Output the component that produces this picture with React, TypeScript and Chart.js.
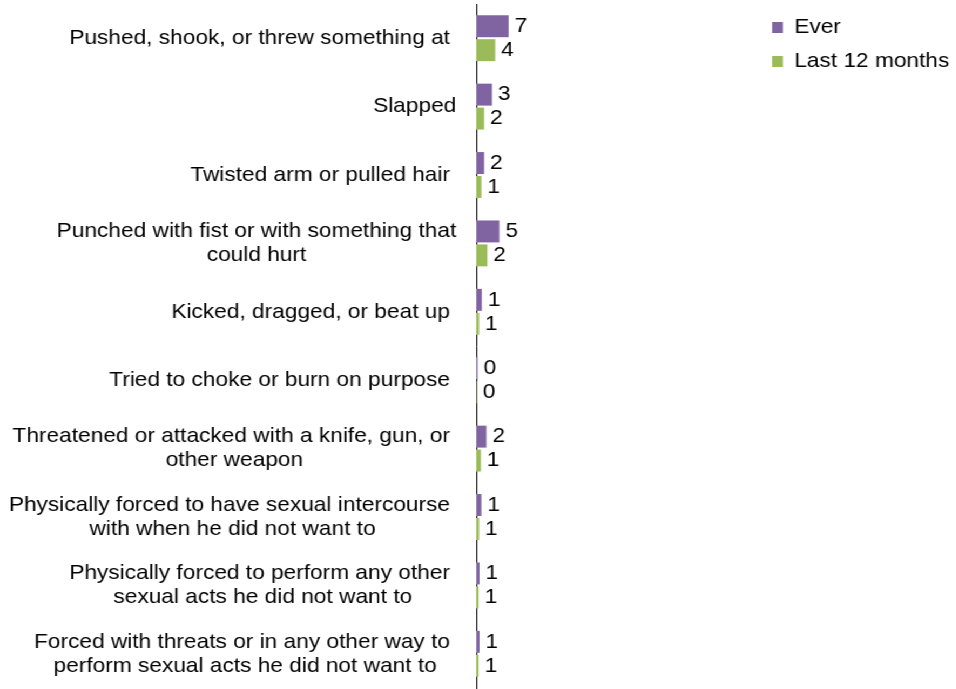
import React, { useEffect, useRef } from "react";
import { Chart, registerables } from "chart.js";

Chart.register(...registerables);

// ---------- data ----------
const categories: string[][] = [
  ["Pushed, shook, or threw something at "],
  ["Slapped"],
  ["Twisted arm or pulled hair "],
  ["Punched with fist or with something that", "could hurt"],
  ["Kicked, dragged, or beat up "],
  ["Tried to choke or burn on purpose "],
  ["Threatened or attacked with a knife, gun, or ", "other weapon"],
  ["Physically forced to have sexual intercourse ", "with when he did not want to"],
  ["Physically forced to perform any other ", "sexual acts he did not want to"],
  ["Forced with threats or in any other way to ", "perform sexual acts he did not want to"],
];
const seriesNames = ["Ever", "Last 12 months"];
const everValues = [7.0, 3.4, 1.7, 5.0, 1.2, 0.3, 2.2, 1.1, 0.7, 0.7];
const last12Values = [4.1, 1.7, 1.1, 2.4, 0.6, 0.1, 1.0, 0.6, 0.5, 0.5];
const xMax = 61;

// ---------- style ----------
const FONT = '"Liberation Sans", Arial, Helvetica, sans-serif';
const FONT_SIZE = 21;
const VALUE_FONT_SIZE = 21;
const STRETCH = 1.08;
const CANVAS_W = 885;
const CANVAS_H = 689;
const AXIS_LEFT = 441;
const COLORS = ["#8064A2", "#9BBB59"];
const LABEL_GAP = 18.5;
const LINE_H = 24;

const categoryLabelPlugin = {
  id: "categoryLabels",
  afterDraw(chart: any) {
    const ctx = chart.ctx;
    const yScale = chart.scales.y;
    const area = chart.chartArea;
    ctx.save();
    ctx.font = `${FONT_SIZE}px ${FONT}`;
    ctx.fillStyle = "#000";
    ctx.textBaseline = "middle";
    ctx.textAlign = "center";
    categories.forEach((lines, i) => {
      const yc = yScale.getPixelForValue(i);
      const bw = Math.max(...lines.map((l) => ctx.measureText(l).width));
      const cx = area.left - LABEL_GAP - bw / 2;
      const y0 = yc - ((lines.length - 1) * LINE_H) / 2;
      lines.forEach((l, j) => ctx.fillText(l, cx, y0 + j * LINE_H));
    });
    ctx.restore();
  },
};

const valueLabelPlugin = {
  id: "valueLabels",
  afterDatasetsDraw(chart: any) {
    const ctx = chart.ctx;
    ctx.save();
    ctx.font = `${VALUE_FONT_SIZE}px ${FONT}`;
    ctx.fillStyle = "#000";
    ctx.textBaseline = "middle";
    ctx.textAlign = "left";
    chart.data.datasets.forEach((ds: any, di: number) => {
      const meta = chart.getDatasetMeta(di);
      meta.data.forEach((bar: any, i: number) => {
        ctx.fillText(String(Math.round(ds.data[i])), bar.x + 5.5, bar.y);
      });
    });
    ctx.restore();
  },
};

export default function App() {
  const ref = useRef<HTMLCanvasElement>(null);
  useEffect(() => {
    if (!ref.current) return;
    const chart = new Chart(ref.current, {
      type: "bar",
      data: {
        labels: categories.map((c) => c.join(" ").trim()),
        datasets: [
          {
            label: seriesNames[0],
            data: everValues,
            backgroundColor: COLORS[0],
            borderWidth: 0,
            categoryPercentage: 0.7,
            barPercentage: 0.917,
          },
          {
            label: seriesNames[1],
            data: last12Values,
            backgroundColor: COLORS[1],
            borderWidth: 0,
            categoryPercentage: 0.7,
            barPercentage: 0.917,
          },
        ],
      },
      options: {
        indexAxis: "y",
        responsive: false,
        animation: false,
        layout: { padding: { left: 0, top: 4, bottom: 1, right: -4 } },
        scales: {
          x: { display: false, min: 0, max: xMax },
          y: {
            ticks: { display: false },
            grid: { display: true, drawOnChartArea: false, drawTicks: false },
            border: { display: true, color: "#000", width: 1 },
            afterFit: (scale: any) => {
              scale.width = AXIS_LEFT;
            },
          },
        },
        plugins: {
          tooltip: { enabled: false },
          legend: {
            position: "right",
            align: "start",
            labels: {
              boxWidth: 10,
              boxHeight: 11,
              padding: 13,
              color: "#000",
              font: { size: FONT_SIZE, family: FONT },
            },
          },
        },
      },
      plugins: [categoryLabelPlugin, valueLabelPlugin],
    });
    return () => chart.destroy();
  }, []);
  return (
    <div
      style={{
        position: "absolute",
        left: 0,
        top: 0,
        width: CANVAS_W,
        height: CANVAS_H,
        transform: `scaleX(${STRETCH})`,
        transformOrigin: "0 0",
        background: "#fff",
      }}
    >
      <canvas ref={ref} width={CANVAS_W} height={CANVAS_H} style={{ display: "block" }} />
    </div>
  );
}
